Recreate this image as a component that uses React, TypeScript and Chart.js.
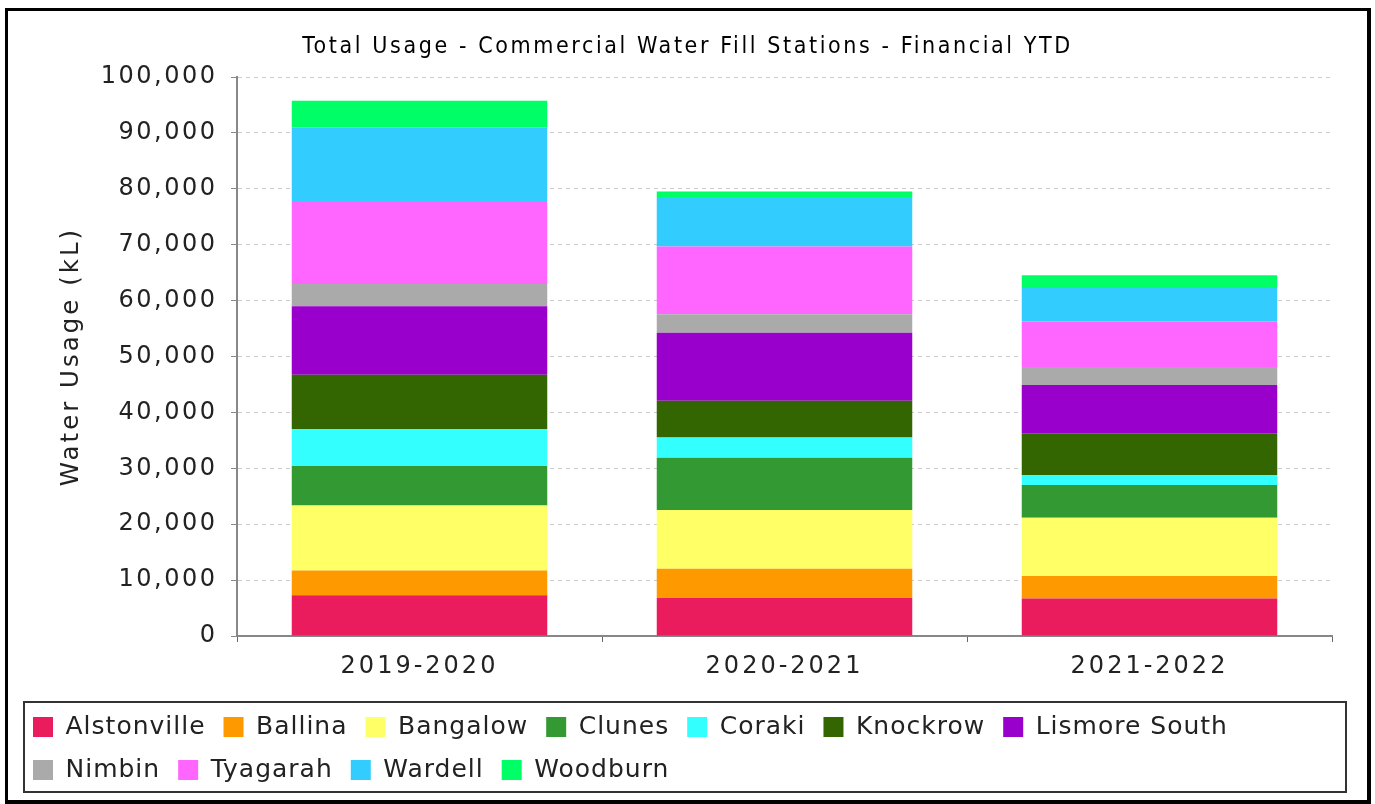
import React, { useEffect, useRef } from "react";
import { Chart, registerables } from "chart.js";

Chart.register(...registerables);

const categories = ["2019-2020", "2020-2021", "2021-2022"];

const alstonville = [7300, 6800, 6700];
const ballina = [4400, 5250, 4050];
const bangalow = [11650, 10500, 10400];
const clunes = [7050, 9350, 5850];
const coraki = [6650, 3600, 1800];
const knockrow = [9700, 6600, 7450];
const lismoreSouth = [12250, 12150, 8650];
const nimbin = [3950, 3300, 3200];
const tyagarah = [14850, 12150, 8150];
const wardell = [13150, 8850, 6000];
const woodburn = [4800, 950, 2300];

const seriesNames = [
  "Alstonville",
  "Ballina",
  "Bangalow",
  "Clunes",
  "Coraki",
  "Knockrow",
  "Lismore South",
  "Nimbin",
  "Tyagarah",
  "Wardell",
  "Woodburn",
];
const seriesValues = [
  alstonville,
  ballina,
  bangalow,
  clunes,
  coraki,
  knockrow,
  lismoreSouth,
  nimbin,
  tyagarah,
  wardell,
  woodburn,
];
const seriesColors = [
  "#EA1C5E",
  "#FF9900",
  "#FFFF66",
  "#339933",
  "#33FFFF",
  "#336600",
  "#9900CC",
  "#AAAAAA",
  "#FF66FF",
  "#33CCFF",
  "#00FF66",
];

const chartTitle = "Total Usage - Commercial Water Fill Stations - Financial YTD";
const yAxisTitle = "Water Usage (kL)";
const yMin = 0;
const yMax = 100000;
const yStep = 10000;

function spacingFor(font: string): string {
  if (font.includes(" 23px")) return "2.6px"; // title
  if (font.includes(" 24px")) return "2.5px"; // y ticks
  if (font.includes(" 24.01px")) return "3px"; // x ticks
  if (font.includes(" 24.5px")) return "3px"; // y title
  if (font.includes(" 25px")) return "1px"; // legend
  return "0px";
}

const framePlugin = {
  id: "frameAndLegendBox",
  afterLayout(chart: any) {
    const t = chart.titleBlock;
    if (t) t.left += 28;
  },
  afterDraw(chart: any) {
    const ctx = chart.ctx;
    ctx.save();
    ctx.fillStyle = "#000";
    ctx.fillRect(5, 8, 3, 796);
    ctx.fillRect(5, 8, 1366, 3);
    ctx.fillRect(1367, 8, 4, 796);
    ctx.fillRect(5, 800, 1366, 4);
    ctx.strokeStyle = "#333";
    ctx.lineWidth = 2;
    ctx.strokeRect(24, 702, 1322, 90);
    ctx.restore();
  },
};

export default function App() {
  const canvasRef = useRef<HTMLCanvasElement | null>(null);

  useEffect(() => {
    const canvas = canvasRef.current;
    if (!canvas) return;
    const ctx = canvas.getContext("2d") as any;
    const desc = Object.getOwnPropertyDescriptor(
      CanvasRenderingContext2D.prototype,
      "font"
    ) as PropertyDescriptor;
    Object.defineProperty(ctx, "font", {
      configurable: true,
      get() {
        return desc.get!.call(this);
      },
      set(v: string) {
        desc.set!.call(this, v);
        try {
          (this as any).letterSpacing = spacingFor(" " + v);
        } catch (e) {}
      },
    });

    const chart = new Chart(canvas, {
      type: "bar",
      data: {
        labels: categories,
        datasets: seriesNames.map((name, i) => ({
          label: name,
          data: seriesValues[i],
          backgroundColor: seriesColors[i],
          borderWidth: 0,
          barPercentage: 0.7,
          categoryPercentage: 1,
        })),
      },
      options: {
        animation: false,
        responsive: false,
        devicePixelRatio: 1,
        layout: { padding: { left: 15, right: 43, top: 20, bottom: 11.5 } },
        plugins: {
          title: {
            display: true,
            text: chartTitle,
            color: "#000",
            font: { family: "'DejaVu Sans Condensed'", size: 23, weight: "normal" },
            padding: { top: 13.2, bottom: 16.2 },
          },
          legend: {
            position: "bottom",
            align: "start",
            labels: {
              boxWidth: 20,
              boxHeight: 20,
              padding: 18,
              color: "#222",
              font: { family: "'DejaVu Sans'", size: 25 },
            },
          },
          tooltip: { enabled: false },
        },
        scales: {
          x: {
            stacked: true,
            grid: {
              drawOnChartArea: false,
              drawTicks: true,
              tickLength: 6,
              tickColor: "#666",
            },
            border: { display: true, color: "#888", width: 2 },
            ticks: {
              color: "#222",
              padding: 10.6,
              font: { family: "'DejaVu Sans'", size: 24.01 },
            },
            afterFit(scale: any) {
              scale.height = 60.5;
            },
          },
          y: {
            stacked: true,
            min: yMin,
            max: yMax,
            grid: {
              color: "#cccccc",
              lineWidth: 1,
              drawTicks: true,
              tickLength: 6,
              tickColor: "#888",
              tickBorderDash: [],
            },
            border: { display: true, color: "#888", width: 2, dash: [4, 4] },
            ticks: {
              stepSize: yStep,
              color: "#222",
              padding: 13.5,
              font: { family: "'DejaVu Sans'", size: 24 },
              callback: (v: any) => Number(v).toLocaleString("en-US"),
            },
            title: {
              display: true,
              text: yAxisTitle,
              color: "#222",
              font: { family: "'DejaVu Sans'", size: 24.5 },
              padding: { top: 42, bottom: 0 },
            },
            afterFit(scale: any) {
              scale.width = 222;
            },
          },
        },
      },
      plugins: [framePlugin],
    } as any);

    return () => {
      chart.destroy();
    };
  }, []);

  return (
    <div
      style={{
        position: "fixed",
        left: 0,
        top: 0,
        width: 1375,
        height: 804,
        background: "#fff",
      }}
    >
      <canvas
        ref={canvasRef}
        width={1375}
        height={804}
        style={{ width: 1375, height: 804, display: "block" }}
      />
    </div>
  );
}
